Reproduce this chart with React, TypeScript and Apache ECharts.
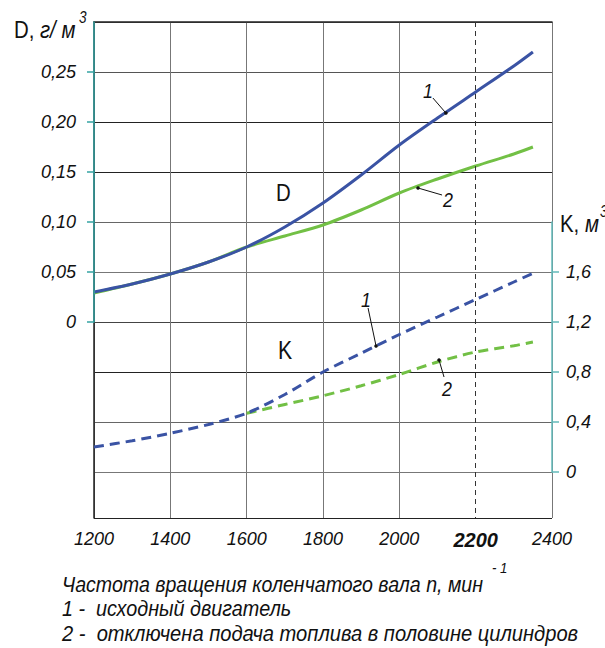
import React, { useEffect, useRef } from "react";
import * as echarts from "echarts";

// ---- data ----
const rpm = [1200, 1300, 1400, 1500, 1600, 1700, 1800, 1900, 2000, 2100, 2200, 2300, 2350];
const dOriginal = [0.030, 0.038, 0.048, 0.060, 0.075, 0.095, 0.119, 0.147, 0.177, 0.204, 0.230, 0.256, 0.270];
const dHalfCyl = [0.029, 0.038, 0.048, 0.060, 0.075, 0.086, 0.097, 0.112, 0.129, 0.143, 0.156, 0.168, 0.175];
const kOriginal = [0.20, 0.25, 0.31, 0.38, 0.47, 0.62, 0.80, 0.95, 1.10, 1.24, 1.38, 1.52, 1.59];
const rpmK2 = [1600, 1700, 1800, 1900, 2000, 2100, 2200, 2300, 2350];
const kHalfCyl = [0.47, 0.54, 0.61, 0.69, 0.78, 0.88, 0.96, 1.01, 1.04];

const xTicks = [1200, 1400, 1600, 1800, 2000, 2200, 2400];
const dTicks = [0, 0.05, 0.10, 0.15, 0.20, 0.25];
const kTicks = [0, 0.4, 0.8, 1.2, 1.6];

// annotation anchors (data coords on curves)
const annD1 = [2122, 0.209];
const annD2 = [2049, 0.134];
const annK1 = [1939, 1.008];
const annK2 = [2104, 0.896];

const FONT = '"Liberation Sans", Arial, sans-serif';
const BLUE = "#3a53a4";
const GREEN = "#72c045";
const TEAL = "#35a3a3";
const TEAL2 = "#62baba";
const SQ = 0.85; // horizontal squeeze for the narrow-looking texts

const pair = (xs: number[], ys: number[]) => xs.map((x, i) => [x, ys[i]]);

export default function App() {
  const ref = useRef<HTMLDivElement>(null);
  useEffect(() => {
    if (!ref.current) return;
    const chart = echarts.init(ref.current, undefined, { renderer: "svg" });
    const G = { left: 94, width: 458 };
    chart.setOption({
      animation: false,
      backgroundColor: "#ffffff",
      grid: [
        { ...G, top: 22, height: 496 },
        { ...G, top: 22, height: 300 },
        { ...G, top: 222, height: 250 },
      ],
      xAxis: [
        {
          type: "value", gridIndex: 0, min: xTicks[0], max: xTicks[xTicks.length - 1], interval: 200,
          axisLine: { show: true, lineStyle: { color: "#222", width: 1.5 } },
          axisTick: { show: false },
          splitLine: {
            show: true,
            lineStyle: { color: ["#666", "#777", "#777", "#777", "#777", "rgba(0,0,0,0)", "#777"], width: 1 },
          },
          axisLabel: {
            margin: 12,
            formatter: (v: number) => (v === 2200 ? "{b|" + v + "}" : "{n|" + v + "}"),
            rich: {
              n: { fontFamily: FONT, fontStyle: "italic", fontSize: 18, color: "#111" },
              b: { fontFamily: FONT, fontStyle: "italic", fontWeight: "bold", fontSize: 20, color: "#111" },
            },
          },
        },
        { type: "value", gridIndex: 1, min: 1200, max: 2400, show: false },
        { type: "value", gridIndex: 2, min: 1200, max: 2400, show: false },
      ],
      yAxis: [
        {
          type: "value", gridIndex: 0, min: 0, max: 496, interval: 50, inverse: true,
          axisLine: { show: true, lineStyle: { color: "#222", width: 1.5 } },
          axisTick: { show: false },
          axisLabel: { show: false },
          splitLine: {
            show: true,
            lineStyle: { color: ["#555", "#555", "#222", "#222", "#666", "#777", "#444", "#222", "#666", "#777", "#222"], width: 1 },
          },
        },
        {
          type: "value", gridIndex: 1, min: 0, max: 0.3, interval: 0.05, position: "left", z: 5,
          axisLine: { show: true, lineStyle: { color: TEAL, width: 1.5 } },
          axisTick: { show: true, inside: false, length: 7, customValues: dTicks, lineStyle: { color: TEAL, width: 1.5 } },
          axisLabel: {
            customValues: dTicks, margin: 18, fontFamily: FONT, fontStyle: "italic", fontSize: 18, color: "#111",
            formatter: (v: number) => (v > 0.26 ? "" : v === 0 ? "0" : v.toFixed(2).replace(".", ",")),
          },
          splitLine: { show: false },
        },
        {
          type: "value", gridIndex: 2, min: 0, max: 2.0, interval: 0.4, position: "right", z: 5,
          axisLine: { show: true, lineStyle: { color: TEAL2, width: 1.5 } },
          axisTick: { show: true, inside: false, length: 7, customValues: kTicks, lineStyle: { color: TEAL2, width: 1.5 } },
          axisLabel: {
            customValues: kTicks, margin: 14, fontFamily: FONT, fontStyle: "italic", fontSize: 18, color: "#111",
            formatter: (v: number) => (v > 1.7 ? "" : v === 0 ? "0" : v.toFixed(1).replace(".", ",")),
          },
          splitLine: { show: false },
        },
      ],
      series: [
        {
          type: "line", xAxisIndex: 0, yAxisIndex: 0, data: [], silent: true,
          markLine: {
            silent: true, symbol: "none", label: { show: false },
            lineStyle: { type: [5, 4], color: "#333", width: 1 },
            data: [{ xAxis: 2200 }],
          },
        },
        {
          name: "D2", type: "line", xAxisIndex: 1, yAxisIndex: 1, data: pair(rpm, dHalfCyl),
          smooth: 0.3, symbol: "none", lineStyle: { color: GREEN, width: 3 },
        },
        {
          name: "D1", type: "line", xAxisIndex: 1, yAxisIndex: 1, data: pair(rpm, dOriginal),
          smooth: 0.3, symbol: "none", lineStyle: { color: BLUE, width: 3 },
        },
        {
          name: "K2", type: "line", xAxisIndex: 2, yAxisIndex: 2, data: pair(rpmK2, kHalfCyl),
          smooth: 0.3, symbol: "none", lineStyle: { color: GREEN, width: 3, type: [10, 6] },
        },
        {
          name: "K1", type: "line", xAxisIndex: 2, yAxisIndex: 2, data: pair(rpm, kOriginal),
          smooth: 0.3, symbol: "none", lineStyle: { color: BLUE, width: 3, type: [10, 6] },
        },
      ],
    });

    const px = (grid: number, p: number[]) =>
      chart.convertToPixel({ xAxisIndex: grid, yAxisIndex: grid }, p) as number[];

    const txt = (text: string, x: number, y: number, font: string, align = "left", sq = SQ) => ({
      type: "text", x, y, z: 21, scaleX: sq,
      style: { text, font, fill: "#111", textAlign: align, textVerticalAlign: "middle" },
    });

    const leader = (grid: number, p: number[], lx: number, ly: number, tx: number, ty: number, label: string) => {
      const [x, y] = px(grid, p);
      return [
        { type: "line", shape: { x1: x, y1: y, x2: x + lx, y2: y + ly }, style: { stroke: "#111", lineWidth: 1 }, z: 20 },
        { type: "circle", shape: { cx: x, cy: y, r: 1.8 }, style: { fill: "#111" }, z: 21 },
        txt(label, x + tx, y + ty, "italic 21px " + FONT, "center"),
      ];
    };

    chart.setOption({
      graphic: {
        elements: [
          txt("D, ", 14, 30, "24px " + FONT),
          txt("г/ м", 40, 30, "italic 24px " + FONT),
          txt("3", 79, 18, "italic 16px " + FONT),
          txt("K, ", 560, 224, "24px " + FONT),
          txt("м", 585, 224, "italic 24px " + FONT),
          txt("3", 600, 212, "italic 16px " + FONT),
          txt("D", 276, 193, "24px " + FONT),
          txt("K", 278, 350, "25px " + FONT),
          ...leader(1, annD1, -13, -15, -18, -23, "1"),
          ...leader(1, annD2, 24, 7, 30, 11, "2"),
          ...leader(2, annK1, -8, -38, -10, -47, "1"),
          ...leader(2, annK2, 5, 17, 8, 28, "2"),
          txt("Частота вращения коленчатого вала n, мин", 62, 584, "italic 22px " + FONT, "left", 0.89),
          txt("- 1", 492, 568, "italic 14px " + FONT, "left", 0.95),
          txt("1 -  исходный двигатель", 62, 608, "italic 22px " + FONT, "left", 0.9),
          txt("2 -  отключена подача топлива в половине цилиндров", 62, 633, "italic 22px " + FONT, "left", 0.915),
        ],
      },
    });

    return () => chart.dispose();
  }, []);
  return <div ref={ref} style={{ width: 605, height: 648, position: "absolute", left: 0, top: 0 }} />;
}
